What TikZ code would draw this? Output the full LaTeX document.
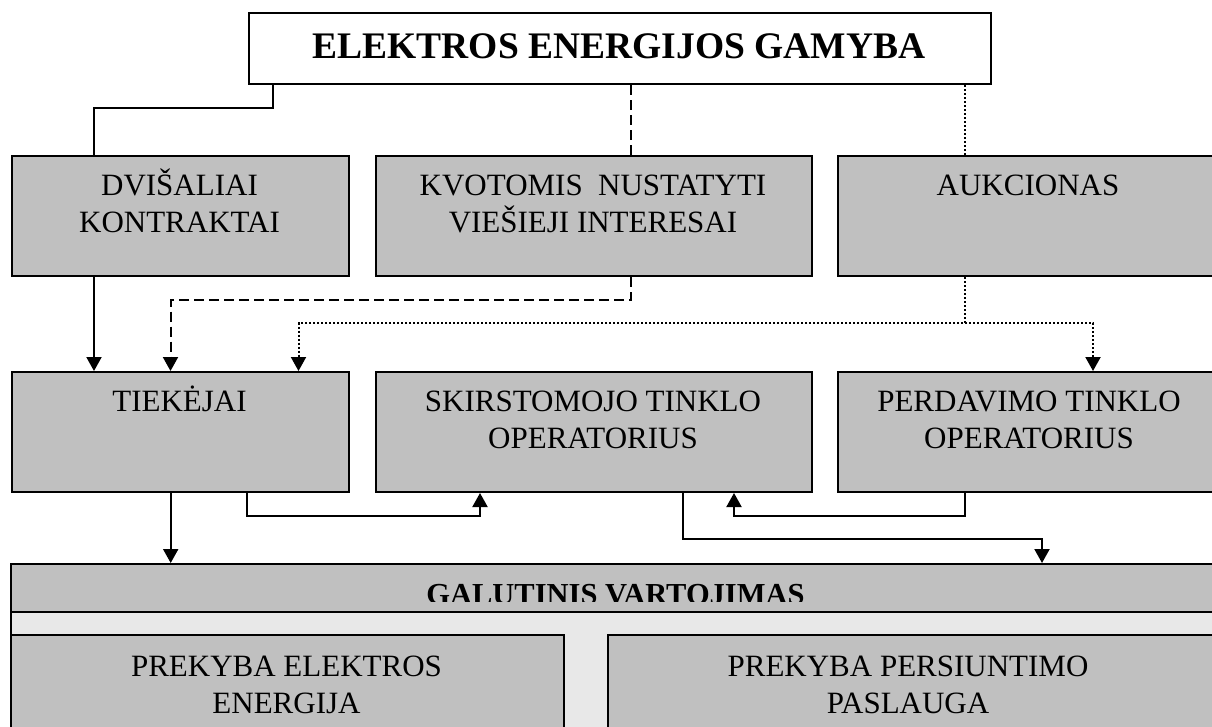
\documentclass[tikz,border=0pt]{standalone}
\usepackage{fontspec}
\setmainfont{Liberation Serif}
\usetikzlibrary{arrows.meta}
\definecolor{boxgray}{RGB}{192,192,192}
\definecolor{bandgray}{RGB}{232,232,232}
\begin{document}
\begin{tikzpicture}[x=1pt,y=-1pt,
  box/.style={draw, line width=2pt, fill=boxgray, inner sep=0pt, anchor=north west},
  lbl/.style={font=\fontsize{31}{37}\selectfont, align=center, inner sep=0pt, anchor=base},
  ln/.style={line width=2pt},
  dsh/.style={dash pattern=on 10pt off 5pt},
  dot/.style={dash pattern=on 2pt off 2pt},
  arr/.style={-{Triangle[length=14pt,width=15pt]}}]
\useasboundingbox (0,0) rectangle (1212,726);
\fill[white] (0,0) rectangle (1212,726);

% boxes
\node[box, fill=white, minimum width=742pt, minimum height=71pt] (top) at (248,12) {};
\node[box, minimum width=337pt, minimum height=120pt] (A) at (11,155) {};
\node[box, minimum width=436pt, minimum height=120pt] (B) at (375,155) {};
\node[box, minimum width=385pt, minimum height=120pt] (C) at (837,155) {};
\node[box, minimum width=337pt, minimum height=120pt] (D) at (11,371) {};
\node[box, minimum width=436pt, minimum height=120pt] (E) at (375,371) {};
\node[box, minimum width=385pt, minimum height=120pt] (F) at (837,371) {};
\node[box, fill=bandgray, minimum width=1215pt, minimum height=180pt] (outer) at (10,563) {};
\node[box, minimum width=1215pt, minimum height=48pt] (band) at (10,563) {};
\node[box, minimum width=553pt, minimum height=110pt] (G) at (10,634) {};
\node[box, minimum width=615pt, minimum height=110pt] (H) at (607,634) {};

% texts (base anchor = baseline of the last line)
\node[font=\bfseries\fontsize{37.5}{45}\selectfont, inner sep=0pt, anchor=base] (tTop) at (619,58) {ELEKTROS ENERGIJOS GAMYBA};
\node[lbl] (tA) at (179.5,232) {DVIŠALIAI\\KONTRAKTAI};
\node[lbl] (tB) at (593,232) {KVOTOMIS\ \ NUSTATYTI\\VIEŠIEJI INTERESAI};
\node[lbl] (tC) at (1028,195) {AUKCIONAS};
\node[lbl] (tD) at (179.5,411.5) {TIEKĖJAI};
\node[lbl] (tE) at (593,448) {SKIRSTOMOJO TINKLO\\OPERATORIUS};
\node[lbl] (tF) at (1029,448) {PERDAVIMO TINKLO\\OPERATORIUS};
\node[lbl] (tG) at (286.5,713) {PREKYBA ELEKTROS\\ENERGIJA};
\node[lbl] (tH) at (908,713) {PREKYBA PERSIUNTIMO\\PASLAUGA};
\begin{scope}
\clip (10,563) rectangle (1225,601);
\node[font=\bfseries\fontsize{30.5}{36}\selectfont, inner sep=0pt, anchor=base] (tBand) at (615.5,604) {GALUTINIS VARTOJIMAS};
\end{scope}

% bend coordinates
\coordinate (k1) at (273,108);
\coordinate (k2) at (93.5,108);
\coordinate (k3) at (631,0);
\coordinate (k4) at (965,0);
\coordinate (k5) at (94,0);
\coordinate (k6) at (631,300);
\coordinate (k7) at (170.5,300);
\coordinate (k8) at (965,323);
\coordinate (k9) at (298.5,323);
\coordinate (k10) at (1093,323);
\coordinate (k11) at (170.7,0);
\coordinate (k12) at (247,516);
\coordinate (k13) at (480,516);
\coordinate (k14) at (683,539);
\coordinate (k15) at (1042,539);
\coordinate (k16) at (965,516);
\coordinate (k17) at (734,516);

% connectors
\draw[ln] (top.south -| k1) -- (k1) -- (k2) -- (A.north -| k2);
\draw[ln,dsh] (top.south -| k3) -- (B.north -| k3);
\draw[ln,dot] (top.south -| k4) -- (C.north -| k4);
\draw[ln,arr] (A.south -| k5) -- (D.north -| k5);
\draw[ln,dsh,arr] (B.south -| k6) -- (k6) -- (k7) -- (D.north -| k7);
\draw[ln,dot,arr] (C.south -| k8) -- (k8) -- (k9) -- (D.north -| k9);
\draw[ln,dot,arr] (k8) -- (k10) -- (F.north -| k10);
\draw[ln,arr] (D.south -| k11) -- (outer.north -| k11);
\draw[ln,arr] (D.south -| k12) -- (k12) -- (k13) -- (E.south -| k13);
\draw[ln,arr] (E.south -| k14) -- (k14) -- (k15) -- (outer.north -| k15);
\draw[ln,arr] (F.south -| k16) -- (k16) -- (k17) -- (E.south -| k17);
\end{tikzpicture}
\end{document}
